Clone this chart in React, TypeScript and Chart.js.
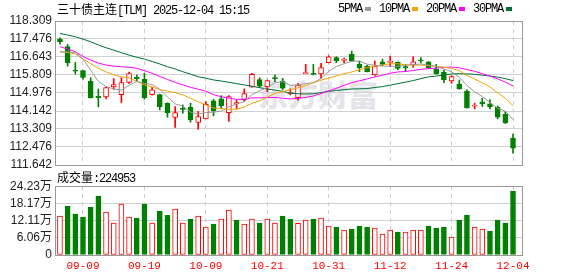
import React, { useEffect, useRef } from "react";
import { Chart, registerables } from "chart.js";

Chart.register(...registerables);

// ---------------- data ----------------
const dates = ["09-04","09-05","09-08","09-09","09-10","09-11","09-12","09-15","09-16","09-17","09-18","09-19","09-22","09-23","09-24","09-25","09-26","09-29","09-30","10-09","10-10","10-13","10-14","10-15","10-16","10-17","10-20","10-21","10-22","10-23","10-24","10-27","10-28","10-29","10-30","10-31","11-03","11-04","11-05","11-06","11-07","11-10","11-11","11-12","11-13","11-14","11-17","11-18","11-19","11-20","11-21","11-24","11-25","11-26","11-27","11-28","12-01","12-02","12-03","12-04"];

const opens = [117.455,117.13,116.04,116.01,115.517,114.824,114.793,115.255,114.902,115.47,
  115.70,115.609,114.902,114.902,114.50,113.84,114.255,114.317,113.609,113.778,
  114.609,114.70,114.07,114.47,114.67,115.24,115.594,115.27,115.686,115.532,
  114.947,114.763,115.87,115.886,115.855,116.378,116.61,116.486,116.763,116.30,
  116.224,115.81,116.424,116.394,116.394,116.193,116.27,116.50,116.424,116.07,
  115.93,115.532,115.394,115.07,114.363,114.563,114.47,114.317,113.993,112.886];
const highs = [117.53,117.224,116.39,116.03,115.686,115.163,115.24,115.64,115.686,115.947,
  115.81,115.886,115.24,114.92,114.52,114.347,114.42,114.50,114.117,114.578,
  114.686,114.855,114.855,114.65,115.163,115.886,115.686,115.58,115.81,115.655,
  115.163,115.424,116.30,116.30,116.347,116.70,116.655,116.594,116.917,116.455,
  116.27,116.455,116.547,116.67,116.424,116.30,116.655,116.61,116.43,116.30,
  116.04,115.78,115.578,115.117,114.50,114.732,114.655,114.378,114.117,113.07];
const lows = [117.24,116.224,115.855,115.62,114.74,114.332,114.70,115.147,114.532,115.424,
  115.50,114.686,114.87,114.193,113.855,113.378,114.04,113.624,113.30,113.77,
  113.917,114.24,113.655,114.24,114.578,115.24,115.24,115.04,115.50,115.117,
  114.886,114.64,115.86,115.81,115.655,116.37,116.378,116.378,116.44,115.963,
  115.95,115.78,116.24,116.193,116.055,115.963,116.163,116.378,116.117,115.85,
  115.455,115.424,115.15,114.27,114.24,114.347,114.24,113.778,113.563,112.194];
const closes = [117.35,116.363,115.99,115.70,114.747,114.762,115.224,115.363,115.455,115.87,
  115.64,114.763,115.117,114.347,114.07,114.07,114.22,113.73,113.886,114.455,
  114.163,114.394,114.809,114.53,114.947,115.84,115.286,115.548,115.64,115.194,
  115.00,115.347,115.89,115.84,116.147,116.655,116.47,116.517,116.455,116.147,
  115.963,116.224,116.30,116.44,116.117,116.147,116.424,116.455,116.147,115.855,
  115.578,115.732,115.163,114.30,114.394,114.47,114.347,113.855,113.594,112.424];

const ma5 = [116.89,116.87,116.84,116.55,116.03,115.51,115.28,115.16,115.11,115.33,
  115.51,115.42,115.37,115.15,114.79,114.47,114.37,114.09,114.00,114.07,
  114.09,114.13,114.34,114.47,114.57,114.90,115.08,115.23,115.45,115.50,
  115.33,115.35,115.41,115.45,115.65,115.98,116.20,116.33,116.45,116.45,
  116.31,116.26,116.22,116.21,116.21,116.25,116.29,116.32,116.26,116.21,
  116.09,115.96,115.70,115.33,115.03,114.81,114.53,114.27,114.13,113.74];
const ma10 = [116.87,116.86,116.78,116.55,116.33,116.12,115.95,115.82,115.72,115.68,
  115.51,115.35,115.26,115.13,115.06,114.99,114.89,114.73,114.57,114.43,
  114.28,114.25,114.22,114.23,114.32,114.50,114.61,114.79,114.96,115.04,
  115.12,115.22,115.32,115.45,115.57,115.66,115.77,115.87,115.95,116.05,
  116.15,116.23,116.27,116.33,116.33,116.28,116.27,116.27,116.24,116.21,
  116.17,116.12,116.01,115.79,115.62,115.45,115.25,114.99,114.73,114.39];
const ma20 = [117.12,117.01,116.89,116.66,116.50,116.36,116.27,116.22,116.19,116.17,
  116.12,116.01,115.89,115.74,115.60,115.47,115.35,115.24,115.15,115.06,
  114.90,114.80,114.74,114.68,114.69,114.75,114.75,114.76,114.77,114.73,
  114.70,114.73,114.77,114.84,114.95,115.08,115.19,115.33,115.46,115.54,
  115.63,115.72,115.80,115.89,115.95,115.97,116.02,116.07,116.10,116.13,
  116.16,116.18,116.14,116.06,115.98,115.87,115.76,115.63,115.48,115.30];
const ma30 = [117.73,117.66,117.58,117.47,117.35,117.20,117.07,116.96,116.84,116.73,
  116.63,116.55,116.43,116.32,116.19,116.09,115.96,115.85,115.73,115.66,
  115.58,115.53,115.47,115.41,115.35,115.29,115.22,115.16,115.11,115.05,
  114.97,114.94,114.93,114.94,114.99,115.05,115.09,115.13,115.16,115.17,
  115.18,115.23,115.27,115.34,115.41,115.48,115.55,115.64,115.72,115.76,
  115.81,115.86,115.87,115.86,115.84,115.80,115.76,115.71,115.64,115.55];

const volumes = [136950,172070,143980,133440,168560,207190,151000,112370,179090,133440,
  129930,179090,112370,154510,140460,161530,112370,126420,136950,98320,
  108860,126420,158020,122910,108860,126420,112370,126420,112370,136950,
  126420,111200,122910,126420,129930,101840,98320,87790,91300,101840,
  98320,94810,73740,87790,80770,80770,87790,87790,101840,94810,
  98320,63210,122910,140460,98320,91300,84280,122910,112370,224953];
// 1 = red (hollow), 0 = green, as drawn in the volume panel
const volumeUp = [1,0,0,0,0,0,1,1,1,1, 0,0,1,0,0,1,1,0,1,1, 0,1,1,0,1,1,0,1,1,0,
  0,1,1,0,1,1,0,1,0,0, 0,1,1,1,0,1,1,1,0,0, 0,1,0,0,1,1,0,0,0,0];

const dateTickLabels = ["09-09","09-19","10-09","10-21","10-31","11-12","11-24","12-04"];
const priceTicks = [111.642,112.476,113.309,114.142,114.976,115.809,116.643,117.476,118.309];
const priceTickLabels = ["111.642","112.476","113.309","114.142","114.976","115.809","116.643","117.476","118.309"];
const volumeTicks = [0,60575,121150,181725,242300];
const volumeTickLabels = ["0","6.06万","12.11万","18.17万","24.23万"];

const legendItems = [
  { label: "5PMA", color: "#999999" },
  { label: "10PMA", color: "#f5a300" },
  { label: "20PMA", color: "#ff00ff" },
  { label: "30PMA", color: "#006f35" },
];

// ---------------- styles ----------------
const RED = "#ff0000";
const GREEN = "#008000";
const X_MIN = -0.646;
const X_MAX = 60.17;
const AXIS_FONT = "'Liberation Sans', 'Noto Sans CJK SC', sans-serif";
const MONO = "'Liberation Mono', 'Noto Sans CJK SC', monospace";

const framePlugin = {
  id: "frame",
  afterDraw(chart: any) {
    const { ctx, chartArea: a } = chart;
    ctx.save();
    ctx.strokeStyle = "#999999";
    ctx.lineWidth = 1;
    ctx.strokeRect(Math.round(a.left) + 0.5, Math.round(a.top) + 0.5, Math.round(a.right - a.left), Math.round(a.bottom - a.top));
    ctx.restore();
  },
};

const dateTickValues = dateTickLabels.map((d) => dates.indexOf(d));

function xScale(showLabels: boolean, height: number) {
  return {
    type: "linear",
    min: X_MIN,
    max: X_MAX,
    offset: false,
    afterBuildTicks: (s: any) => {
      s.ticks = dateTickValues.map((v) => ({ value: v }));
    },
    afterFit: (s: any) => {
      s.height = height;
    },
    grid: { color: "#cccccc", lineWidth: 1, offset: false, drawTicks: false },
    border: { display: false, dash: [4, 4] },
    ticks: {
      display: showLabels,
      autoSkip: false,
      maxRotation: 0,
      padding: 4,
      color: RED,
      font: { family: MONO, size: 11 },
      callback: (v: any) => dates[Math.round(v)],
    },
  };
}

function yScale(ticks: number[], labels: string[]) {
  return {
    type: "linear",
    min: ticks[0],
    max: ticks[ticks.length - 1],
    afterBuildTicks: (s: any) => {
      s.ticks = ticks.map((v) => ({ value: v }));
    },
    afterFit: (s: any) => {
      s.width = 55;
    },
    grid: { color: "#d0d0d0", drawTicks: false },
    border: { display: false },
    ticks: {
      autoSkip: false,
      padding: 3,
      color: "#222222",
      font: { family: AXIS_FONT, size: 12 },
      callback: (_v: any, i: number) => labels[i],
    },
  };
}

export default function App() {
  const priceRef = useRef<HTMLCanvasElement>(null);
  const volRef = useRef<HTMLCanvasElement>(null);

  useEffect(() => {
    const idx = closes.map((_, i) => i);
    const up = idx.map((i) => closes[i] >= opens[i]);
    const line = (data: number[], color: string, order: number) => ({
      type: "line",
      data: data.map((v, i) => ({ x: i, y: v })),
      borderColor: color,
      borderWidth: 1,
      pointRadius: 0,
      tension: 0,
      order,
    });

    const price = new Chart(priceRef.current!, {
      type: "bar",
      data: {
        datasets: [
          line(ma5, legendItems[0].color, 0),
          line(ma10, legendItems[1].color, 1),
          line(ma20, legendItems[2].color, 2),
          line(ma30, legendItems[3].color, 3),
          {
            type: "bar",
            data: idx.map((i) => ({ x: i, y: [opens[i], closes[i]] })),
            backgroundColor: up.map((u) => (u ? "#ffffff" : GREEN)),
            borderColor: up.map((u) => (u ? RED : GREEN)),
            borderWidth: 1,
            borderSkipped: false,
            barThickness: 5,
            grouped: false,
            minBarLength: 1,
            order: 10,
          },
          {
            type: "bar",
            data: idx.map((i) => ({ x: i, y: [lows[i], highs[i]] })),
            backgroundColor: up.map((u) => (u ? RED : GREEN)),
            borderWidth: 0,
            barThickness: 1,
            grouped: false,
            order: 20,
          },
        ] as any,
      },
      options: {
        responsive: false,
        devicePixelRatio: 1,
        animation: false,
        events: [],
        layout: { padding: { left: 0, right: 56, top: 21, bottom: 11 } },
        plugins: { legend: { display: false }, tooltip: { enabled: false } },
        scales: {
          x: xScale(false, 0) as any,
          y: yScale(priceTicks, priceTickLabels) as any,
        },
      },
      plugins: [framePlugin],
    });

    const vol = new Chart(volRef.current!, {
      type: "bar",
      data: {
        datasets: [
          {
            data: idx.map((i) => ({ x: i, y: volumes[i] })),
            backgroundColor: volumeUp.map((u) => (u ? "#ffffff" : GREEN)),
            borderColor: volumeUp.map((u) => (u ? RED : GREEN)),
            borderWidth: 1,
            borderSkipped: false,
            barThickness: 5,
            grouped: false,
          },
        ] as any,
      },
      options: {
        responsive: false,
        devicePixelRatio: 1,
        animation: false,
        events: [],
        layout: { padding: { left: 0, right: 56, top: 10, bottom: 0 } },
        plugins: { legend: { display: false }, tooltip: { enabled: false } },
        scales: {
          x: xScale(true, 21) as any,
          y: yScale(volumeTicks, volumeTickLabels) as any,
        },
      },
      plugins: [framePlugin],
    });

    return () => {
      price.destroy();
      vol.destroy();
    };
  }, []);

  const textBase: React.CSSProperties = {
    position: "absolute",
    fontFamily: MONO,
    fontSize: 12,
    lineHeight: "14px",
    color: "#000",
    whiteSpace: "nowrap",
  };
  const cjk: React.CSSProperties = { fontFamily: "'Noto Sans CJK SC', sans-serif", letterSpacing: 0 };

  return (
    <div style={{ position: "fixed", left: 0, top: 0, width: 578, height: 276, background: "#fff", overflow: "hidden" }}>
      <div
        style={{
          position: "absolute",
          left: 258,
          top: 76,
          fontFamily: "'Noto Sans CJK SC', sans-serif",
          fontWeight: 900,
          fontSize: 30,
          lineHeight: "34px",
          color: "#e4e4ea",
          whiteSpace: "nowrap",
        }}
      >
        东方财富
      </div>
      <canvas ref={priceRef} width={578} height={176} style={{ position: "absolute", left: 0, top: 0 }} />
      <canvas ref={volRef} width={578} height={100} style={{ position: "absolute", left: 0, top: 176 }} />
      <div style={{ ...textBase, left: 57, top: 2 }}>
        <span style={cjk}>三十债主连</span>
        <span style={{ letterSpacing: "-1.2px" }}>[TLM] 2025-12-04 15:15</span>
      </div>
      <div style={{ ...textBase, left: 338, top: 2, display: "flex", alignItems: "center" }}>
        {legendItems.map((it) => (
          <span key={it.label} style={{ display: "flex", alignItems: "center", marginRight: 8 }}>
            <span style={{ letterSpacing: "-1.2px" }}>{it.label}</span>
            <span style={{ display: "inline-block", width: 6, height: 4, background: it.color, marginLeft: 3 }} />
          </span>
        ))}
      </div>
      <div style={{ ...textBase, left: 57, top: 170 }}>
        <span style={cjk}>成交量</span>
        <span style={{ letterSpacing: "-1.2px" }}>:224953</span>
      </div>
    </div>
  );
}
